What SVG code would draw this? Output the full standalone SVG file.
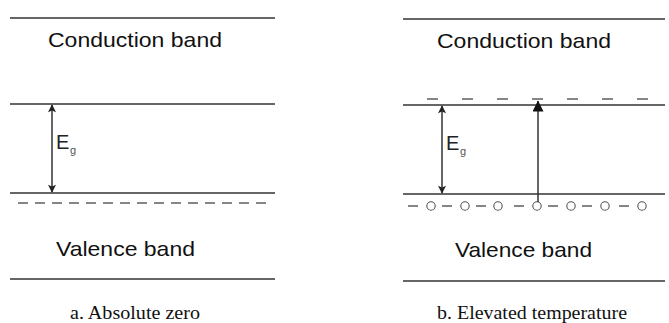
<svg xmlns="http://www.w3.org/2000/svg" width="669" height="323" viewBox="0 0 669 323">
<style>
.band{stroke:#333;stroke-width:1.3;fill:none}
.lvl{stroke:#333;stroke-width:1.3;fill:none}
.dash{stroke:#444;stroke-width:1.3}
.hole{fill:#fff;stroke:#555;stroke-width:1.1}
.lbl{font-family:"Liberation Sans","DejaVu Sans",sans-serif;font-size:21px;fill:#111}
.cap{font-family:"Liberation Serif","DejaVu Serif",serif;font-size:19px;fill:#111}
.eg{font-family:"Liberation Sans","DejaVu Sans",sans-serif;font-size:20px;fill:#222}
.sub{font-family:"Liberation Sans","DejaVu Sans",sans-serif;font-size:11px;fill:#555}
.arr{stroke:#333;stroke-width:1.5;fill:none}
</style>
<defs>
<marker id="dh" viewBox="0 0 10 10" refX="9" refY="5" markerWidth="11" markerHeight="8" markerUnits="userSpaceOnUse" orient="auto-start-reverse">
<path d="M0,0 L10,5 L0,10 L2,5 z" fill="#222"/>
</marker>
<marker id="up" viewBox="0 0 10 10" refX="9.5" refY="5" markerWidth="13" markerHeight="11" markerUnits="userSpaceOnUse" orient="auto">
<path d="M0,0 L10,5 L0,10 z" fill="#111"/>
</marker>
</defs>

<g id="panel-a">
  <g id="a-conduction">
    <line class="band" x1="10" y1="18" x2="275" y2="18"/>
    <text class="lbl" x="48" y="47" textLength="174" lengthAdjust="spacingAndGlyphs">Conduction band</text>
    <line class="lvl" x1="10" y1="104" x2="275" y2="104"/>
  </g>
  <g id="a-valence">
    <line class="lvl" x1="10" y1="193" x2="275" y2="193"/>
    <g id="a-electrons">
      <line class="dash" x1="18" y1="203" x2="28" y2="203"/>
      <line class="dash" x1="35" y1="203" x2="45" y2="203"/>
      <line class="dash" x1="52" y1="203" x2="62" y2="203"/>
      <line class="dash" x1="69" y1="203" x2="79" y2="203"/>
      <line class="dash" x1="86" y1="203" x2="96" y2="203"/>
      <line class="dash" x1="103" y1="203" x2="113" y2="203"/>
      <line class="dash" x1="120" y1="203" x2="130" y2="203"/>
      <line class="dash" x1="137" y1="203" x2="147" y2="203"/>
      <line class="dash" x1="154" y1="203" x2="164" y2="203"/>
      <line class="dash" x1="171" y1="203" x2="181" y2="203"/>
      <line class="dash" x1="188" y1="203" x2="198" y2="203"/>
      <line class="dash" x1="205" y1="203" x2="215" y2="203"/>
      <line class="dash" x1="222" y1="203" x2="232" y2="203"/>
      <line class="dash" x1="239" y1="203" x2="249" y2="203"/>
      <line class="dash" x1="256" y1="203" x2="266" y2="203"/>
    </g>
    <text class="lbl" x="56" y="256" textLength="139" lengthAdjust="spacingAndGlyphs">Valence band</text>
    <line class="band" x1="10" y1="279" x2="275" y2="279"/>
  </g>
  <g id="a-eg">
    <text class="eg" x="56" y="149">E</text>
    <text class="sub" x="70" y="154">g</text>
  </g>
  <text id="a-caption" class="cap" x="70" y="319" textLength="130" lengthAdjust="spacingAndGlyphs">a.  Absolute zero</text>
</g>

<g id="panel-b">
  <g id="b-conduction">
    <line class="band" x1="403" y1="19" x2="665" y2="19"/>
    <text class="lbl" x="437" y="48" textLength="174" lengthAdjust="spacingAndGlyphs">Conduction band</text>
    <g id="b-electrons">
      <line class="dash" x1="427" y1="99" x2="438" y2="99"/>
      <line class="dash" x1="462" y1="99" x2="473" y2="99"/>
      <line class="dash" x1="497" y1="99" x2="508" y2="99"/>
      <line class="dash" x1="532" y1="99" x2="543" y2="99"/>
      <line class="dash" x1="567" y1="99" x2="578" y2="99"/>
      <line class="dash" x1="602" y1="99" x2="613" y2="99"/>
      <line class="dash" x1="637" y1="99" x2="648" y2="99"/>
    </g>
    <line class="lvl" x1="403" y1="105" x2="665" y2="105"/>
  </g>
  <g id="b-valence">
    <line class="lvl" x1="403" y1="194" x2="665" y2="194"/>
    <g id="b-row">
      <line class="dash" x1="408" y1="206" x2="418" y2="206"/>
      <circle class="hole" cx="431" cy="206" r="4.2"/>
      <line class="dash" x1="442" y1="206" x2="452" y2="206"/>
      <circle class="hole" cx="465" cy="206" r="4.2"/>
      <line class="dash" x1="476" y1="206" x2="486" y2="206"/>
      <circle class="hole" cx="498" cy="206" r="4.2"/>
      <line class="dash" x1="514" y1="206" x2="524" y2="206"/>
      <circle class="hole" cx="537" cy="206" r="4.2"/>
      <line class="dash" x1="548" y1="206" x2="558" y2="206"/>
      <circle class="hole" cx="571" cy="206" r="4.2"/>
      <line class="dash" x1="582" y1="206" x2="592" y2="206"/>
      <circle class="hole" cx="605" cy="206" r="4.2"/>
      <line class="dash" x1="619" y1="206" x2="629" y2="206"/>
      <circle class="hole" cx="642" cy="206" r="4.2"/>
    </g>
    <text class="lbl" x="455" y="257" textLength="137" lengthAdjust="spacingAndGlyphs">Valence band</text>
    <line class="band" x1="403" y1="281" x2="665" y2="281"/>
  </g>
  <g id="b-eg">
    <text class="eg" x="446" y="150">E</text>
    <text class="sub" x="460" y="155">g</text>
  </g>
  <text id="b-caption" class="cap" x="437" y="319" textLength="190" lengthAdjust="spacingAndGlyphs">b.  Elevated temperature</text>
</g>

<g id="connectors">
  <line class="arr" x1="52" y1="105" x2="52" y2="192" marker-start="url(#dh)" marker-end="url(#dh)"/>
  <line class="arr" x1="442" y1="106" x2="442" y2="193" marker-start="url(#dh)" marker-end="url(#dh)"/>
  <line class="arr" x1="538" y1="202" x2="538" y2="101" marker-end="url(#up)"/>
</g>
</svg>
